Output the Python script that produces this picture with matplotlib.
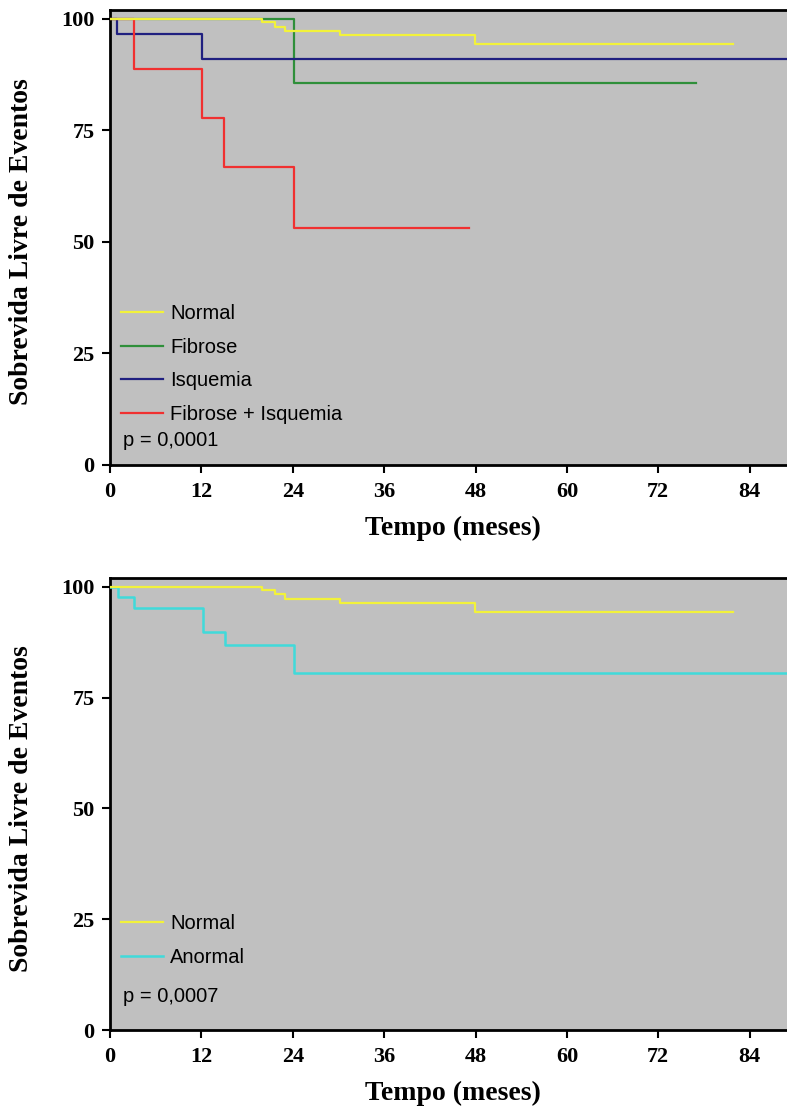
import matplotlib
matplotlib.use('Agg')
import matplotlib.pyplot as plt

# Kaplan-Meier style step data (months, % event-free survival)
normal_t = [0, 19.9, 21.7, 23.0, 30.2, 47.9, 81.8]
normal_s = [100, 99.2, 98.3, 97.2, 96.4, 94.4, 94.4]

fibrose_t = [0, 24.2, 77.0]
fibrose_s = [100, 85.7, 85.7]

isquemia_t = [0, 0.9, 12.1, 90]
isquemia_s = [100, 96.6, 91.0, 91.0]

fib_isq_t = [0, 3.2, 12.1, 15.0, 24.2, 47.1]
fib_isq_s = [100, 88.8, 77.7, 66.9, 53.2, 53.2]

anormal_t = [0, 1.0, 3.2, 12.2, 15.1, 24.2, 90]
anormal_s = [100, 97.7, 95.2, 89.8, 86.8, 80.6, 80.6]

x_ticks = [0, 12, 24, 36, 48, 60, 72, 84]
y_ticks = [0, 25, 50, 75, 100]

c_yellow = '#f2f23a'
c_green = '#2f8f3a'
c_blue = '#202080'
c_red = '#f03030'
c_cyan = '#40dada'

serif_bold = dict(family='Liberation Serif', weight='bold')
sans = dict(family='Liberation Sans', size=14.5)

fig = plt.figure(figsize=(7.87, 11.15), dpi=100)
ax_top = fig.add_axes([110 / 787, 1 - 465 / 1115, 677 / 787, 455 / 1115])
ax_bot = fig.add_axes([110 / 787, 1 - 1030 / 1115, 677 / 787, 452 / 1115])


def style_axes(ax):
    ax.set_facecolor('#c0c0c0')
    ax.set_xlim(0, 88.9)
    ax.set_ylim(0, 102)
    ax.set_xticks(x_ticks)
    ax.set_yticks(y_ticks)
    ax.set_xticklabels([str(v) for v in x_ticks], fontsize=16, **serif_bold)
    ax.set_yticklabels([str(v) for v in y_ticks], fontsize=16, **serif_bold)
    ax.tick_params(direction='out', length=6, width=1.5)
    ax.tick_params(axis='y', pad=5)
    ax.tick_params(axis='x', pad=6)
    for side in ['left', 'bottom', 'top']:
        ax.spines[side].set_linewidth(2)
        ax.spines[side].set_color('black')
    ax.spines['right'].set_visible(False)
    ax.set_xlabel('Tempo (meses)', fontsize=20, **serif_bold)
    ax.set_ylabel('Sobrevida Livre de Eventos', fontsize=20, **serif_bold)
    ax.xaxis.set_label_coords(0.507, -0.112)
    ax.yaxis.set_label_coords(-0.112, 0.49)


def add_legend(ax, top_y, p_text, p_y):
    ax.legend(loc='upper left', bbox_to_anchor=(11 / 677, top_y), frameon=False,
              prop=sans, handlelength=2.1, handletextpad=0.35, labelspacing=0.73,
              borderaxespad=0, borderpad=0)
    ax.text(0.019, p_y, p_text, transform=ax.transAxes, va='center', **sans)


style_axes(ax_top)
ax_top.step(normal_t, normal_s, where='post', color=c_yellow, lw=1.6, label='Normal', zorder=4)
ax_top.step(fibrose_t, fibrose_s, where='post', color=c_green, lw=1.6, label='Fibrose', zorder=3)
ax_top.step(isquemia_t, isquemia_s, where='post', color=c_blue, lw=1.6, label='Isquemia', zorder=3)
ax_top.step(fib_isq_t, fib_isq_s, where='post', color=c_red, lw=1.6, label='Fibrose + Isquemia', zorder=3)
add_legend(ax_top, (465 - 304) / 455, 'p = 0,0001', (465 - 441) / 455)

style_axes(ax_bot)
ax_bot.step(normal_t, normal_s, where='post', color=c_yellow, lw=1.6, label='Normal', zorder=4)
ax_bot.step(anormal_t, anormal_s, where='post', color=c_cyan, lw=1.8, label='Anormal', zorder=3)
add_legend(ax_bot, (1030 - 914) / 452, 'p = 0,0007', (1030 - 996) / 452)

fig.savefig('out.png', dpi=100)
